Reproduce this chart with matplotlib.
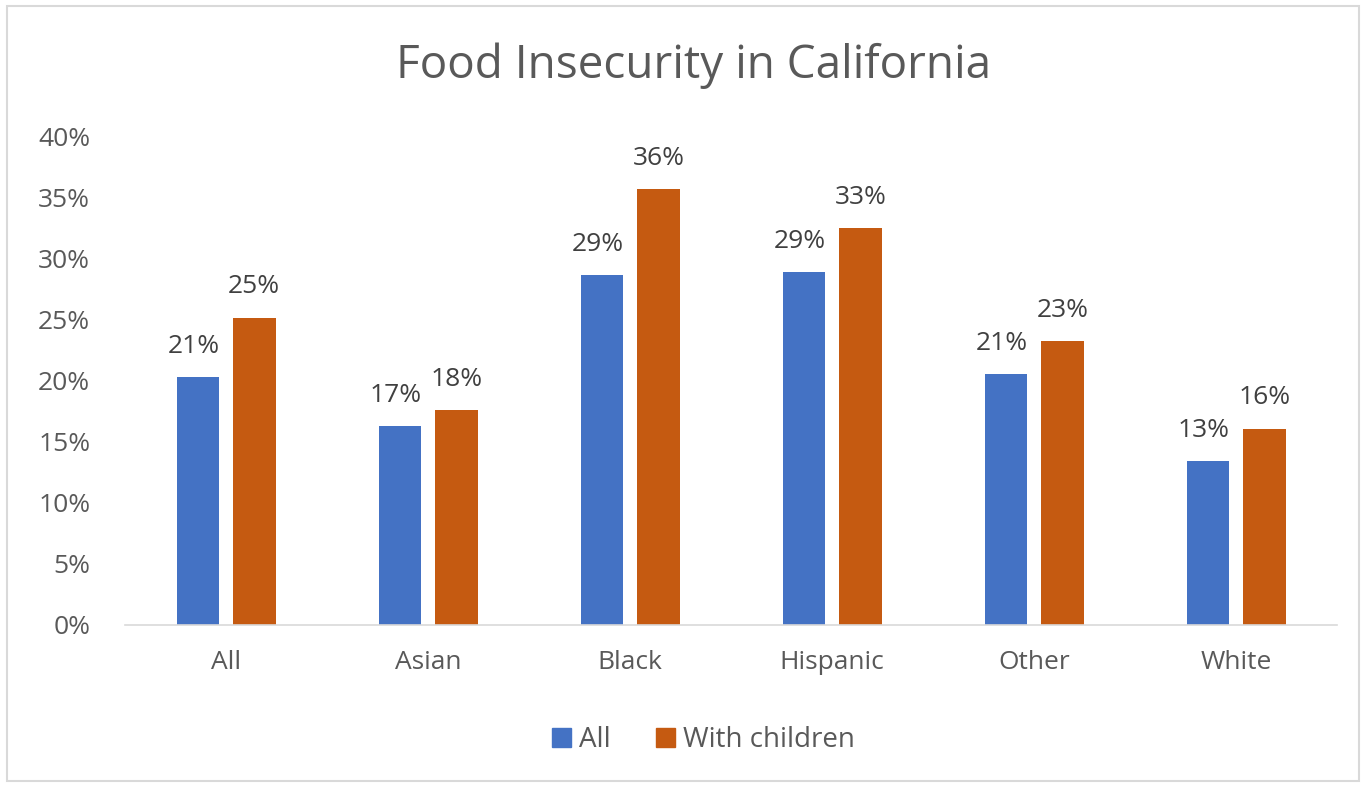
import matplotlib
matplotlib.use("Agg")
import matplotlib.pyplot as plt
from matplotlib.patches import Rectangle, Patch
import numpy as np

categories = ["All", "Asian", "Black", "Hispanic", "Other", "White"]
all_vals = [0.203, 0.163, 0.287, 0.289, 0.206, 0.134]
child_vals = [0.252, 0.176, 0.357, 0.325, 0.233, 0.161]
all_labels = ["21%", "17%", "29%", "29%", "21%", "13%"]
child_labels = ["25%", "18%", "36%", "33%", "23%", "16%"]
yticks = [0, 0.05, 0.10, 0.15, 0.20, 0.25, 0.30, 0.35, 0.40]
ytick_labels = ["0%", "5%", "10%", "15%", "20%", "25%", "30%", "35%", "40%"]

blue = "#4472C4"
orange = "#C55A11"
txt = "#595959"

plt.rcParams['font.family'] = ['Open Sans', 'DejaVu Sans']

fig = plt.figure(figsize=(13.66, 7.89), dpi=100)
ax = fig.add_axes([0.0915, 0.2079, 0.8875, 0.6185])

x = np.arange(len(categories))
w = 0.21
off = 0.14
b1 = ax.bar(x - off, all_vals, w, color=blue)
b2 = ax.bar(x + off, child_vals, w, color=orange)

for rect, lab in zip(b1, all_labels):
    ax.annotate(lab, (rect.get_x() + rect.get_width() / 2 - 0.02, rect.get_height()),
                xytext=(0, 13), textcoords="offset points", ha="center", va="bottom",
                fontsize=19, color="#404040")
for rect, lab in zip(b2, child_labels):
    ax.annotate(lab, (rect.get_x() + rect.get_width() / 2, rect.get_height()),
                xytext=(0, 13), textcoords="offset points", ha="center", va="bottom",
                fontsize=19, color="#404040")

ax.set_xlim(-0.5, len(categories) - 0.5)
ax.set_ylim(0, 0.4)
ax.set_yticks(yticks)
ax.set_yticklabels(ytick_labels)
ax.set_xticks(x)
ax.set_xticklabels(categories)
ax.tick_params(axis='both', length=0, labelsize=19, labelcolor=txt)
ax.tick_params(axis='x', pad=18)
ax.tick_params(axis='y', pad=25)
for s in ["top", "right", "left"]:
    ax.spines[s].set_visible(False)
ax.spines["bottom"].set_color("#D9D9D9")
ax.spines["bottom"].set_linewidth(1.2)

fig.text(0.508, 0.917, "Food Insecurity in California", ha="center", va="center",
         fontsize=33, color=txt)

handles = [Patch(color=blue, label="All"), Patch(color=orange, label="With children")]
fig.legend(handles=handles, loc="center", bbox_to_anchor=(0.515, 0.062), ncol=2,
           frameon=False, fontsize=20, handlelength=0.7, handleheight=0.7,
           handletextpad=0.3, columnspacing=1.6, labelcolor=txt)

fig.patches.append(Rectangle((0.005, 0.01), 0.99, 0.982, transform=fig.transFigure,
                             fill=False, edgecolor="#D9D9D9", linewidth=1.5))

fig.savefig("out.png", dpi=100)
